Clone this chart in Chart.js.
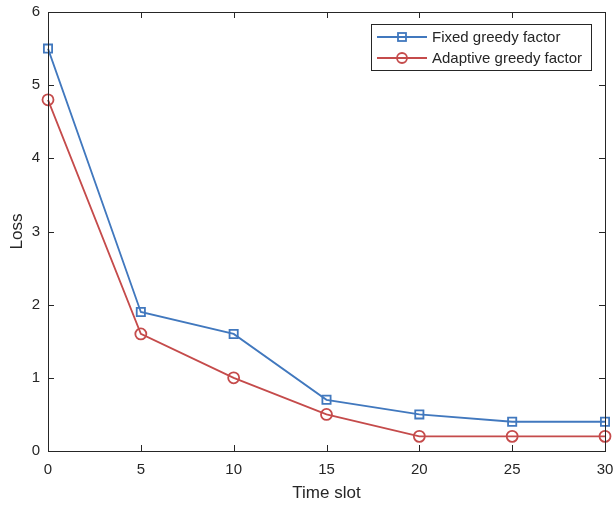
<!DOCTYPE html>
<html>
<head>
<meta charset="utf-8">
<script src="https://cdn.jsdelivr.net/npm/chart.js@4"></script>
<style>
  html, body { margin: 0; padding: 0; background: #fff; }
  #wrap { width: 614px; height: 506px; }
</style>
</head>
<body>
<div id="wrap"><canvas id="c" width="614" height="506"></canvas></div>
<script>
// time slots and loss curves
const timeSlots = [0, 5, 10, 15, 20, 25, 30];
const fixedLoss = [5.5, 1.9, 1.6, 0.7, 0.5, 0.4, 0.4];
const adaptiveLoss = [4.8, 1.6, 1.0, 0.5, 0.2, 0.2, 0.2];
const xTicks = [0, 5, 10, 15, 20, 25, 30];
const yTicks = [0, 1, 2, 3, 4, 5, 6];

const BLUE = "#4178be";
const RED = "#c54b4b";
const AXIS = "#262626";
const FONT = "Arial, 'Liberation Sans', sans-serif";

// box around the plot area with inward ticks on all four sides
const boxTicks = {
  id: "boxTicks",
  afterDatasetsDraw(chart) {
    const { ctx, chartArea: a, scales: { x, y } } = chart;
    ctx.save();
    ctx.strokeStyle = AXIS;
    ctx.lineWidth = 1;
    ctx.strokeRect(a.left + 0.5, a.top + 0.5, a.right - a.left, a.bottom - a.top);
    const len = 6;
    ctx.beginPath();
    xTicks.forEach(v => {
      const px = Math.round(x.getPixelForValue(v)) + 0.5;
      ctx.moveTo(px, a.bottom); ctx.lineTo(px, a.bottom - len);
      ctx.moveTo(px, a.top); ctx.lineTo(px, a.top + len);
    });
    yTicks.forEach(v => {
      const py = Math.round(y.getPixelForValue(v)) + 0.5;
      ctx.moveTo(a.left, py); ctx.lineTo(a.left + len, py);
      ctx.moveTo(a.right, py); ctx.lineTo(a.right - len, py);
    });
    ctx.stroke();
    ctx.restore();
  }
};

new Chart(document.getElementById("c"), {
  type: "line",
  data: {
    datasets: [
      {
        label: "Fixed greedy factor",
        data: timeSlots.map((t, i) => ({ x: t, y: fixedLoss[i] })),
        borderColor: BLUE,
        backgroundColor: "transparent",
        borderWidth: 1.8,
        pointStyle: "rect",
        pointRadius: 5.8,
        pointBorderWidth: 1.8,
        pointBorderColor: BLUE,
        pointBackgroundColor: "transparent",
        clip: false,
        tension: 0
      },
      {
        label: "Adaptive greedy factor",
        data: timeSlots.map((t, i) => ({ x: t, y: adaptiveLoss[i] })),
        borderColor: RED,
        backgroundColor: "transparent",
        borderWidth: 1.8,
        pointStyle: "circle",
        pointRadius: 5.5,
        pointBorderWidth: 1.8,
        pointBorderColor: RED,
        pointBackgroundColor: "transparent",
        clip: false,
        tension: 0
      }
    ]
  },
  options: {
    responsive: false,
    animation: false,
    devicePixelRatio: 1,
    layout: { padding: { top: 12, right: 9, left: 0, bottom: 0 } },
    plugins: {
      legend: { display: false },
      tooltip: { enabled: false }
    },
    scales: {
      x: {
        type: "linear",
        min: 0, max: 30,
        afterBuildTicks: s => { s.ticks = xTicks.map(v => ({ value: v })); },
        afterFit: s => { s.height = 55; s.paddingLeft = 0; s.paddingRight = 0; },
        grid: { display: false, drawTicks: false },
        border: { display: false },
        ticks: { color: AXIS, font: { family: FONT, size: 15 }, padding: 10 },
        title: { display: true, text: "Time slot", color: AXIS,
                 font: { family: FONT, size: 17 }, padding: { top: 0, bottom: 2 } }
      },
      y: {
        type: "linear",
        min: 0, max: 6,
        afterBuildTicks: s => { s.ticks = yTicks.map(v => ({ value: v })); },
        afterFit: s => { s.width = 48; s.paddingTop = 0; s.paddingBottom = 0; },
        grid: { display: false, drawTicks: false },
        border: { display: false },
        ticks: { color: AXIS, font: { family: FONT, size: 15 }, padding: 8 },
        title: { display: true, text: "Loss", color: AXIS,
                 font: { family: FONT, size: 17 }, padding: { top: 7, bottom: 0 } }
      }
    }
  },
  plugins: [boxTicks, {
    // legend box in the upper right corner
    id: "boxLegend",
    afterDraw(chart) {
      const { ctx } = chart;
      const items = chart.data.datasets;
      const left = 371, top = 24, w = 220, h = 46;
      ctx.save();
      ctx.fillStyle = "#fff";
      ctx.fillRect(left, top, w, h);
      ctx.strokeStyle = AXIS;
      ctx.lineWidth = 1;
      ctx.strokeRect(left + 0.5, top + 0.5, w, h);
      ctx.font = "15px " + FONT;
      ctx.textBaseline = "middle";
      items.forEach((ds, i) => {
        const cy = top + 13 + i * 21;
        ctx.strokeStyle = ds.borderColor;
        ctx.lineWidth = 1.8;
        ctx.beginPath();
        ctx.moveTo(left + 6, cy); ctx.lineTo(left + 56, cy);
        ctx.stroke();
        if (ds.pointStyle === "rect") {
          ctx.strokeRect(left + 27, cy - 4, 8, 8);
        } else {
          ctx.beginPath();
          ctx.arc(left + 31, cy, 5, 0, Math.PI * 2);
          ctx.stroke();
        }
        ctx.fillStyle = AXIS;
        ctx.fillText(ds.label, left + 61, cy + 1);
      });
      ctx.restore();
    }
  }]
});
</script>
</body>
</html>
